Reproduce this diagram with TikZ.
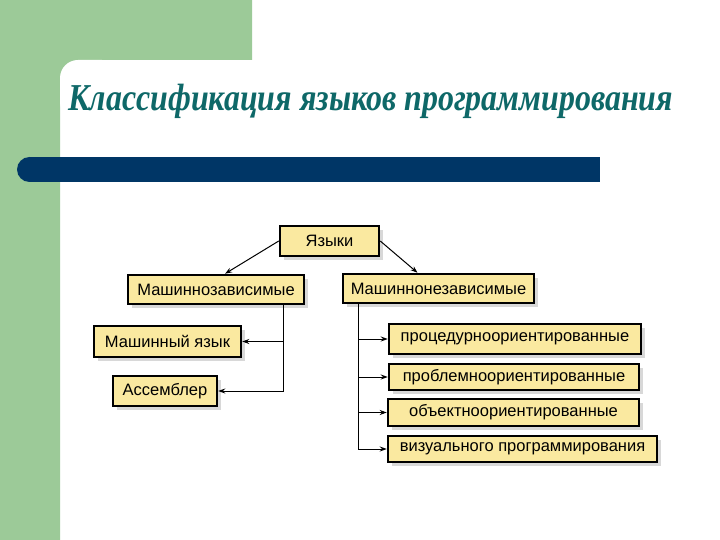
\documentclass[tikz,border=0pt]{standalone}
\usepackage{fontspec}
\setmainfont{Liberation Serif}
\setsansfont{Liberation Sans}
\usetikzlibrary{arrows.meta,shadows,calc}
\definecolor{bggreen}{RGB}{156,202,152}
\definecolor{barblue}{RGB}{0,54,102}
\definecolor{titleteal}{RGB}{14,104,104}
\definecolor{boxfill}{RGB}{250,233,160}
\begin{document}
\begin{tikzpicture}[x=1pt,y=-1pt,
  box/.style={draw=black, line width=2.5pt, fill=boxfill, inner sep=0pt,
    font=\sffamily\fontsize{16.5}{18}\selectfont,
    drop shadow={opacity=0.3, shadow xshift=4pt, shadow yshift=-4pt}},
  conn/.style={draw=black, line width=1pt, -{Stealth[length=7pt,width=5pt]}}]
\useasboundingbox (0,0) rectangle (720,540);
\fill[white] (0,0) rectangle (720,540);
% background
\fill[bggreen] (0,0) -- (252,0) -- (252,60) -- (60,60) -- (60,540) -- (0,540) -- cycle;
\fill[bggreen] (60,60) rectangle (90,90);
\fill[white, rounded corners=18pt] (60,60) rectangle (120,120);
% bar
\fill[barblue] (29.5,169.5) circle (12.5);
\fill[barblue] (29.5,157) rectangle (600,182);
% title
\node[anchor=base west, inner sep=0pt, text=titleteal,
  font=\fontsize{38}{40}\selectfont\bfseries\itshape] (title) at (68,111)
  {\scalebox{0.84}[1]{Классификация языков программирования}};
% nodes
\node[box, minimum width=99pt, minimum height=30pt] (yaz) at (329.5,241) {Языки};
\node[box, minimum width=176pt, minimum height=29pt] (mz) at (216,289.5) {Машиннозависимые};
\node[box, minimum width=191pt, minimum height=29pt] (mnz) at (438.5,288.5) {Машиннонезависимые};
\node[box, minimum width=147pt, minimum height=31pt] (mj) at (167.5,341.5) {Машинный язык};
\node[box, minimum width=104pt, minimum height=30pt] (as) at (165,391) {Ассемблер};
\node[box, minimum width=252pt, minimum height=30pt] (p1) at (515,339) {процедурноориентированные};
\node[box, minimum width=250pt, minimum height=26pt] (p2) at (514,377) {проблемноориентированные};
\node[box, minimum width=251pt, minimum height=27pt] (p3) at (513.5,412.5) {объектноориентированные};
\node[box, minimum width=269pt, minimum height=26pt] (p4) at (522.5,449) {визуального программирования};
% connectors
\coordinate (lv) at (283,0);
\coordinate (rv) at (358,0);
\draw[conn] (yaz.west) -- ([xshift=9pt]mz.north);
\draw[conn] (yaz.east) -- ([xshift=-21pt]mnz.north);
\draw[conn] (mz.south -| lv) |- (mj.east);
\draw[conn] (mz.south -| lv) |- (as.east);
\draw[conn] (mnz.south -| rv) |- (p1.west);
\draw[conn] (mnz.south -| rv) |- (p2.west);
\draw[conn] (mnz.south -| rv) |- (p3.west);
\draw[conn] (mnz.south -| rv) |- (p4.west);
\end{tikzpicture}
\end{document}
